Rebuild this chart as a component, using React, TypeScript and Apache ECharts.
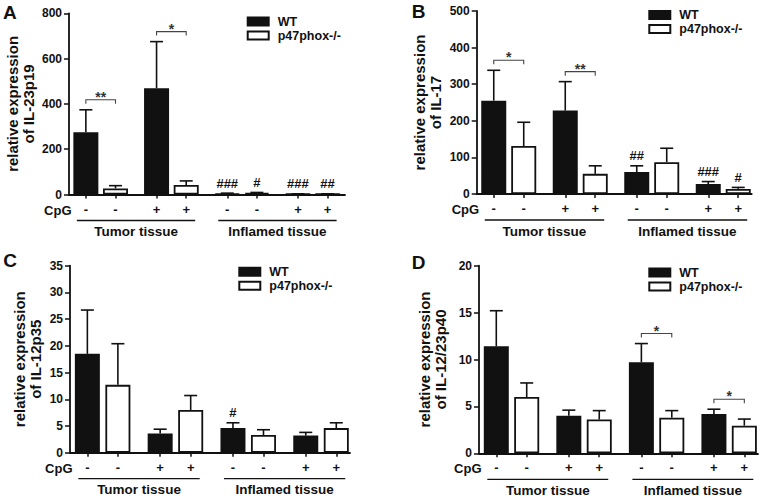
import React, { useEffect, useRef } from "react";
import * as echarts from "echarts";

const FONT = "'Liberation Sans', Arial, Helvetica, sans-serif";
const INK = "#111111";

// ---------------- data ----------------
const seriesNames = ["WT", "p47phox-/-"];
const tissues = ["Tumor tissue", "Inflamed tissue"];
// groups: Tumor CpG-, Tumor CpG+, Inflamed CpG-, Inflamed CpG+
const groupCpG = ["-", "+", "-", "+"];
const cpgLabel = "CpG";
const panelLetters = ["A", "B", "C", "D"];
const yTitles = [
  "relative expression\nof IL-23p19",
  "relative expression\nof IL-17",
  "relative expression\nof IL-12p35",
  "relative expression\nof IL-12/23p40",
];
const yMaxes = [800, 500, 35, 20];
const ySteps = [200, 100, 5, 5];

// IL-23p19 (A)
const il23WtMean = [275, 469, 4, 2];
const il23WtSem = [99, 206, 2, 1];
const il23KoMean = [27, 42, 7, 2];
const il23KoSem = [12, 18, 2, 1];
const il23Brackets: [number, string][] = [[0, "**"], [1, "*"]];
const il23Hashes: [number, string][] = [[4, "###"], [5, "#"], [6, "###"], [7, "##"]];

// IL-17 (B)
const il17WtMean = [255, 228, 60, 27];
const il17WtSem = [83, 79, 17, 7];
const il17KoMean = [131, 55, 87, 14];
const il17KoSem = [65, 22, 38, 4];
const il17Brackets: [number, string][] = [[0, "*"], [1, "**"]];
const il17Hashes: [number, string][] = [[4, "##"], [6, "###"], [7, "#"]];

// IL-12p35 (C)
const il12p35WtMean = [18.5, 3.6, 4.6, 3.2];
const il12p35WtSem = [8.2, 0.8, 1.0, 0.6];
const il12p35KoMean = [12.7, 8.0, 3.3, 4.6];
const il12p35KoSem = [7.7, 2.7, 1.0, 1.0];
const il12p35Brackets: [number, string][] = [];
const il12p35Hashes: [number, string][] = [[4, "#"]];

// IL-12/23p40 (D)
const il12p40WtMean = [11.4, 4.0, 9.7, 4.2];
const il12p40WtSem = [3.8, 0.6, 2.0, 0.5];
const il12p40KoMean = [6.0, 3.6, 3.8, 2.95];
const il12p40KoSem = [1.5, 0.95, 0.75, 0.7];
const il12p40Brackets: [number, string][] = [[2, "*"], [3, "*"]];
const il12p40Hashes: [number, string][] = [];

const panelData = [
  { wtMean: il23WtMean, wtSem: il23WtSem, koMean: il23KoMean, koSem: il23KoSem, brackets: il23Brackets, hashes: il23Hashes },
  { wtMean: il17WtMean, wtSem: il17WtSem, koMean: il17KoMean, koSem: il17KoSem, brackets: il17Brackets, hashes: il17Hashes },
  { wtMean: il12p35WtMean, wtSem: il12p35WtSem, koMean: il12p35KoMean, koSem: il12p35KoSem, brackets: il12p35Brackets, hashes: il12p35Hashes },
  { wtMean: il12p40WtMean, wtSem: il12p40WtSem, koMean: il12p40KoMean, koSem: il12p40KoSem, brackets: il12p40Brackets, hashes: il12p40Hashes },
];

// ---------------- layout ----------------
const layouts = [
  { left: 69, top: 13.3, width: 276, height: 181.2, xMax: 101.5, nameGap: 33, letter: [3, 12.2], legend: [246.7, 14.5] },
  { left: 476.7, top: 11, width: 275, height: 183, xMax: 100, nameGap: 33.5, letter: [411.7, 11.7], legend: [648.3, 8] },
  { left: 70, top: 265.7, width: 280, height: 187, xMax: 100, nameGap: 27, letter: [3.3, 260.3], legend: [238.3, 264.7] },
  { left: 479, top: 265.7, width: 279, height: 187.6, xMax: 100, nameGap: 31, letter: [411.7, 262], legend: [648.3, 265.6] },
];
const slotPos = (i: number) => 6.2 + 10.9 * (i % 2) + 26.0 * Math.floor(i / 2);
const slots = [0, 1, 2, 3, 4, 5, 6, 7].map(slotPos);
const BAR_W = 25;

const boldText = (size: number) => ({ fontFamily: FONT, fontWeight: "bold" as const, fontSize: size, color: INK });

function buildOption() {
  const grid: any[] = [];
  const xAxis: any[] = [];
  const yAxis: any[] = [];
  const legend: any[] = [];
  const series: any[] = [];
  const graphic: any[] = [];

  layouts.forEach((L, p) => {
    const d = panelData[p];
    const meanOf = (s: number) => (s % 2 === 0 ? d.wtMean : d.koMean)[Math.floor(s / 2)];
    const upperOf = (s: number) => meanOf(s) + (s % 2 === 0 ? d.wtSem : d.koSem)[Math.floor(s / 2)];

    grid.push({ left: L.left, top: L.top, width: L.width, height: L.height });

    xAxis.push({
      type: "value",
      gridIndex: p,
      min: 0,
      max: L.xMax,
      splitLine: { show: false },
      axisLine: { show: true, lineStyle: { color: INK, width: 1.8 } },
      axisTick: { show: true, customValues: slots, length: 4, lineStyle: { color: INK, width: 1.5 } },
      axisLabel: {
        customValues: slots,
        margin: 8,
        ...boldText(13),
        formatter: (v: number) => {
          let best = 0;
          slots.forEach((s, i) => {
            if (Math.abs(s - v) < Math.abs(slots[best] - v)) best = i;
          });
          return groupCpG[Math.floor(best / 2)];
        },
      },
    });

    yAxis.push({
      type: "value",
      gridIndex: p,
      min: 0,
      max: yMaxes[p],
      interval: ySteps[p],
      name: yTitles[p],
      nameLocation: "middle",
      nameRotate: 90,
      nameGap: L.nameGap,
      nameTextStyle: { ...boldText(15), lineHeight: 16 },
      splitLine: { show: false },
      axisLine: { show: true, lineStyle: { color: INK, width: 1.8 } },
      axisTick: { show: true, length: 5, lineStyle: { color: INK, width: 1.5 } },
      axisLabel: { margin: 7, ...boldText(12) },
    });

    legend.push({
      orient: "vertical",
      left: L.legend[0],
      top: L.legend[1],
      padding: 0,
      itemWidth: 21,
      itemHeight: 8,
      itemGap: 0,
      icon: "rect",
      selectedMode: false,
      data: seriesNames,
      textStyle: { ...boldText(12.5), lineHeight: 14, padding: [0, 0, 0, 4] },
    });

    graphic.push({
      type: "text",
      x: L.letter[0],
      y: L.letter[1],
      style: { text: panelLetters[p], fontFamily: FONT, fontWeight: "bold", fontSize: 19, fill: INK, align: "left", verticalAlign: "middle" },
    });

    // bars
    series.push({
      type: "bar",
      name: seriesNames[0],
      xAxisIndex: p,
      yAxisIndex: p,
      barWidth: BAR_W,
      barGap: "-100%",
      silent: true,
      itemStyle: { color: INK, borderColor: INK, borderWidth: 1.8 },
      data: d.wtMean.map((v, g) => [slots[2 * g], v]),
      z: 2,
    });
    series.push({
      type: "bar",
      name: seriesNames[1],
      xAxisIndex: p,
      yAxisIndex: p,
      barWidth: BAR_W,
      barGap: "-100%",
      silent: true,
      itemStyle: { color: "#ffffff", borderColor: INK, borderWidth: 1.8 },
      data: d.koMean.map((v, g) => [slots[2 * g + 1], v]),
      z: 2,
    });

    // error bars (upper only)
    series.push({
      type: "custom",
      xAxisIndex: p,
      yAxisIndex: p,
      silent: true,
      z: 3,
      data: slots.map((x, s) => [x, meanOf(s), upperOf(s)]),
      renderItem: (_params: any, api: any) => {
        const x = api.value(0);
        const p0 = api.coord([x, api.value(1)]);
        const p1 = api.coord([x, api.value(2)]);
        const st = { stroke: INK, lineWidth: 1.6 };
        return {
          type: "group",
          children: [
            { type: "line", shape: { x1: p0[0], y1: p0[1], x2: p1[0], y2: p1[1] }, style: st },
            { type: "line", shape: { x1: p1[0] - 6.5, y1: p1[1], x2: p1[0] + 6.5, y2: p1[1] }, style: st },
          ],
        };
      },
    });

    // significance brackets
    if (d.brackets.length) {
      series.push({
        type: "custom",
        xAxisIndex: p,
        yAxisIndex: p,
        silent: true,
        z: 4,
        data: d.brackets.map(([g]) => [slots[2 * g], Math.max(upperOf(2 * g), upperOf(2 * g + 1)), slots[2 * g + 1]]),
        renderItem: (params: any, api: any) => {
          const pl = api.coord([api.value(0), api.value(1)]);
          const pr = api.coord([api.value(2), api.value(1)]);
          const y = pl[1] - 10;
          return {
            type: "group",
            children: [
              {
                type: "polyline",
                shape: { points: [[pl[0], y + 4], [pl[0], y], [pr[0], y], [pr[0], y + 4]] },
                style: { stroke: "#444", lineWidth: 1.1, fill: "none" },
              },
              {
                type: "text",
                style: {
                  text: d.brackets[params.dataIndex][1],
                  x: (pl[0] + pr[0]) / 2,
                  y: y - 3,
                  align: "center",
                  verticalAlign: "middle",
                  fontFamily: FONT,
                  fontWeight: "bold",
                  fontSize: 14,
                  fill: "#333",
                },
              },
            ],
          };
        },
      });
    }

    // # markers
    if (d.hashes.length) {
      series.push({
        type: "custom",
        xAxisIndex: p,
        yAxisIndex: p,
        silent: true,
        z: 4,
        data: d.hashes.map(([s]) => [slots[s], upperOf(s)]),
        renderItem: (params: any, api: any) => {
          const pt = api.coord([api.value(0), api.value(1)]);
          return {
            type: "text",
            style: {
              text: d.hashes[params.dataIndex][1],
              x: pt[0],
              y: pt[1] - 10,
              align: "center",
              verticalAlign: "middle",
              fontFamily: FONT,
              fontWeight: "bold",
              fontSize: 13,
              fill: INK,
            },
          };
        },
      });
    }

    // tissue group lines, labels and CpG row label
    series.push({
      type: "custom",
      xAxisIndex: p,
      yAxisIndex: p,
      silent: true,
      z: 4,
      clip: false,
      data: [
        [slots[0], 0, slots[3]],
        [slots[4], 0, slots[7]],
      ],
      renderItem: (params: any, api: any) => {
        const a = api.coord([api.value(0), 0]);
        const b = api.coord([api.value(2), 0]);
        const children: any[] = [
          { type: "line", shape: { x1: a[0] - 9, y1: a[1] + 26, x2: b[0] + 9, y2: a[1] + 26 }, style: { stroke: INK, lineWidth: 1.3 } },
          {
            type: "text",
            style: {
              text: tissues[params.dataIndex],
              x: (a[0] + b[0]) / 2,
              y: a[1] + 37,
              align: "center",
              verticalAlign: "middle",
              fontFamily: FONT,
              fontWeight: "bold",
              fontSize: 13.5,
              fill: INK,
            },
          },
        ];
        if (params.dataIndex === 0) {
          const o = api.coord([0, 0]);
          children.push({
            type: "text",
            style: {
              text: cpgLabel,
              x: o[0] + 2.5,
              y: o[1] + 15.5,
              align: "right",
              verticalAlign: "middle",
              fontFamily: FONT,
              fontWeight: "bold",
              fontSize: 13,
              fill: INK,
            },
          });
        }
        return { type: "group", children };
      },
    });
  });

  return {
    animation: false,
    backgroundColor: "#ffffff",
    textStyle: { fontFamily: FONT },
    grid,
    xAxis,
    yAxis,
    legend,
    series,
    graphic,
  };
}

export default function App() {
  const ref = useRef<HTMLDivElement>(null);
  useEffect(() => {
    if (!ref.current) return;
    const chart = echarts.init(ref.current, null, { renderer: "svg" });
    chart.setOption(buildOption() as any);
    return () => chart.dispose();
  }, []);
  return (
    <div
      ref={ref}
      style={{ position: "fixed", left: 0, top: 0, width: 765, height: 498, background: "#ffffff" }}
    />
  );
}
